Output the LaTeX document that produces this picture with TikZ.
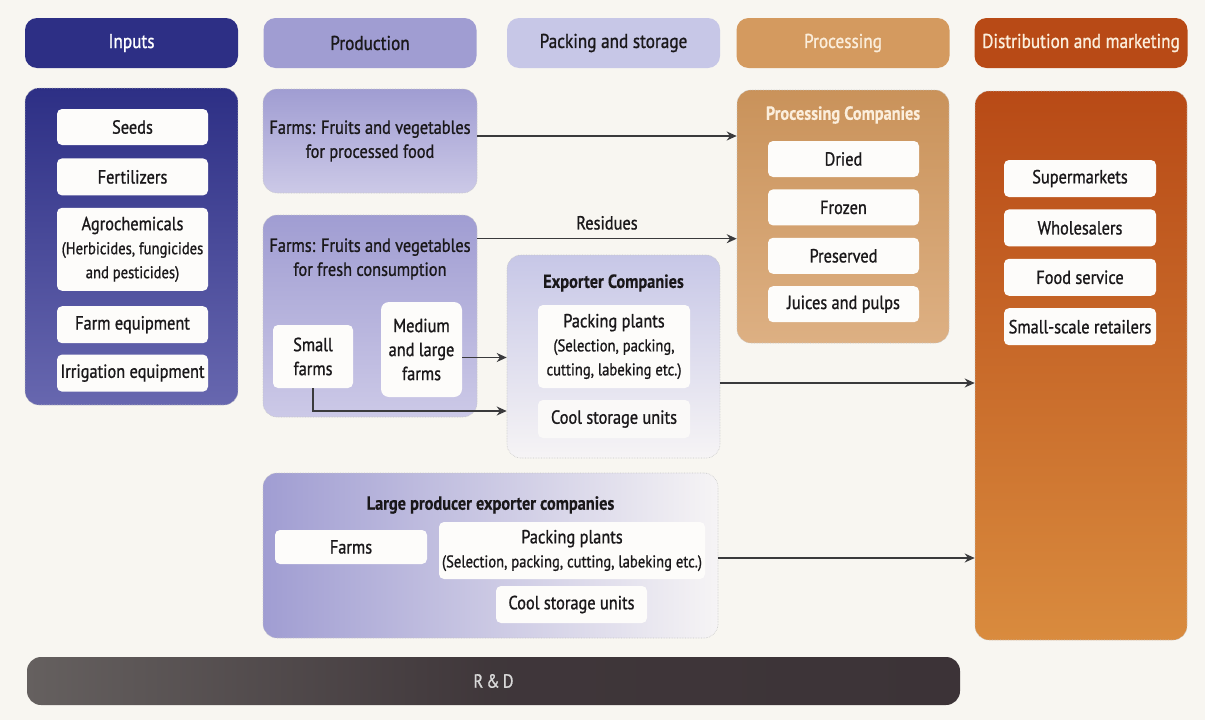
\documentclass[tikz,border=0pt]{standalone}
\usepackage{fontspec}
\setmainfont{PT Sans}[FakeStretch=0.86, FakeBold=1.0, BoldFeatures={FakeBold=0.3}]
\usepackage{xcolor}
\usepackage{tikz}
\usetikzlibrary{arrows.meta, positioning}

\definecolor{paper}{HTML}{F8F6F1}
\definecolor{ink}{HTML}{1A181A}
\definecolor{itemwhite}{HTML}{FDFCFA}
\definecolor{arrowgray}{HTML}{3A3A3C}
\definecolor{inputblue}{HTML}{2D2F85}
\definecolor{inputlight}{HTML}{6767AF}
\definecolor{prodpurple}{HTML}{A09DD2}
\definecolor{prodlight}{HTML}{CCC9E7}
\definecolor{packlav}{HTML}{C7C7E7}
\definecolor{packpale}{HTML}{F6F4F5}
\definecolor{proctan}{HTML}{D49A5F}
\definecolor{proclight}{HTML}{DDB083}
\definecolor{proccream}{HTML}{FBEEDC}
\definecolor{distred}{HTML}{B84A16}
\definecolor{distorange}{HTML}{D98B3E}
\definecolor{rddark}{HTML}{3C3337}
\definecolor{rdgray}{HTML}{65605F}

\begin{document}
\begin{tikzpicture}[x=1pt, y=-1pt, node distance=12pt, every node/.style={font=\fontsize{19}{24}\selectfont, text=ink}]
    % Styles
    \tikzstyle{head} = [rectangle, rounded corners=12pt, minimum width=213pt, minimum height=50pt, inner sep=0pt, font=\fontsize{20}{24}\selectfont]
    \tikzstyle{panel} = [rectangle, rounded corners=14pt, draw=black!22, densely dotted, line width=0.6pt, inner sep=0pt]
    \tikzstyle{item} = [rectangle, rounded corners=5pt, fill=itemwhite, minimum width=151pt, minimum height=37pt, align=center, inner sep=2pt]
    \tikzstyle{title} = [font=\bfseries\fontsize{19}{24}\selectfont]
    \tikzstyle{flow} = [-{Stealth[length=10pt, width=9pt]}, line width=1.3pt, draw=arrowgray]

    \fill[paper] (0,0) rectangle (1205,720);
    \useasboundingbox (0,0) rectangle (1205,720);

    % Header row
    \node[head, fill=inputblue, text=white] (hinputs) at (131.5,43) {Inputs};
    \node[head, fill=prodpurple] (hprod) at (370,43) {Production};
    \node[head, fill=packlav] (hpack) at (613.5,43) {Packing and storage};
    \node[head, fill=proctan, text=proccream] (hproc) at (843,43) {Processing};
    \node[head, fill=distred, text=proccream] (hdist) at (1081,43) {Distribution and marketing};

    % Panels
    \node[panel, top color=inputblue, bottom color=inputlight, minimum width=213pt, minimum height=317pt] (inputs) at (131.5,246.5) {};
    \node[panel, top color=prodpurple, bottom color=prodlight, minimum width=214pt, minimum height=104pt] (farmsproc) at (370,141) {};
    \node[panel, top color=prodpurple, bottom color=prodlight, minimum width=214pt, minimum height=202pt] (farmsfresh) at (370,316) {};
    \node[panel, top color=packlav, bottom color=packpale, minimum width=213pt, minimum height=203pt] (exporter) at (613.5,356.5) {};
    \node[panel, top color=proctan!95!black, bottom color=proclight, minimum width=212pt, minimum height=253pt] (proc) at (843,216.5) {};
    \node[panel, top color=distred, bottom color=distorange, minimum width=212pt, minimum height=549pt] (dist) at (1081,365.5) {};
    \node[panel, left color=prodpurple, right color=packpale, minimum width=455pt, minimum height=165pt] (large) at (490.5,555.5) {};
    \node[rectangle, rounded corners=14pt, left color=rdgray, right color=rddark, middle color=rddark!92!rdgray, minimum width=933pt, minimum height=48pt, text=white!85!black] (rd) at (493.5,681) {R\,\&\,D};

    % Inputs
    \node[item, minimum height=36pt] (seeds) at (132.5,127) {Seeds};
    \node[item, below=13pt of seeds] (fert) {Fertilizers};
    \node[item, below=12pt of fert, minimum height=83pt] (agro) {Agrochemicals\\ \fontsize{17}{22}\selectfont(Herbicides, fungicides\\ \fontsize{17}{22}\selectfont and pesticides)};
    \node[item, below=15pt of agro] (farmeq) {Farm equipment};
    \node[item, below=11pt of farmeq] (irrig) {Irrigation equipment};

    % Production
    \node[align=center] (proctext) at (farmsproc) {Farms: Fruits and vegetables\\for processed food};
    \node[align=center] (freshtext) at (370,259) {Farms: Fruits and vegetables\\for fresh consumption};
    \node[item, minimum width=80pt, minimum height=63pt] (small) at (313,356.5) {Small\\farms};
    \node[item, minimum width=81pt, minimum height=95pt, rounded corners=8pt] (medium) at (421.5,349.5) {Medium\\and large\\farms};

    % Packing and storage
    \node[title] (exptitle) at (613.5,283) {Exporter Companies};
    \node[item, minimum width=152pt, minimum height=83pt] (packplant) at (614,346.5) {Packing plants\\ \fontsize{17}{21}\selectfont(Selection, packing,\\ \fontsize{17}{21}\selectfont cutting, labeking etc.)};
    \node[item, fill=itemwhite!60!packpale, minimum width=152pt, minimum height=38pt] (coolstore) at (614,419) {Cool storage units};

    % Processing
    \node[title, text=proccream] (proctitle) at (843,115) {Processing Companies};
    \node[item, minimum height=36pt] (dried) at (843.5,159) {Dried};
    \node[item, minimum height=36pt, below=of dried] (frozen) {Frozen};
    \node[item, minimum height=36pt, below=of frozen] (preserved) {Preserved};
    \node[item, minimum height=36pt, below=of preserved] (juices) {Juices and pulps};

    % Distribution and marketing
    \node[item, minimum width=152pt] (supermarkets) at (1080,178.5) {Supermarkets};
    \node[item, minimum width=152pt, below=of supermarkets] (wholesalers) {Wholesalers};
    \node[item, minimum width=152pt, below=of wholesalers] (foodservice) {Food service};
    \node[item, minimum width=152pt, below=of foodservice] (retailers) {Small-scale retailers};

    % Large producers
    \node[title] (largetitle) at (490.5,505) {Large producer exporter companies};
    \node[item, minimum width=152pt, minimum height=34pt] (lfarms) at (351,547) {Farms};
    \node[item, minimum width=266pt, minimum height=57pt] (lpack) at (572,550.5) {Packing plants\\ \fontsize{17}{21}\selectfont(Selection, packing, cutting, labeking etc.)};
    \node[item, minimum width=151pt] (lcool) at (571.5,604.5) {Cool storage units};

    % Connections
    \draw[flow] ([yshift=5pt]farmsproc.east) -- ([yshift=5pt]farmsproc.east -| proc.west);
    \draw[flow] ([yshift=-24pt]farmsfresh.north east) -- ([yshift=-24pt]farmsfresh.north east -| proc.west)
        node[midway, above=5pt] (residues) {Residues};
    \draw[flow] ([yshift=-8pt]medium.east) -- ([yshift=-8pt]medium.east -| exporter.west);
    \draw[flow] (small.south) |- ([yshift=8pt]coolstore.west -| exporter.west);
    \draw[flow] ([yshift=-26.5pt]exporter.east) -- ([yshift=-26.5pt]exporter.east -| dist.west);
    \draw[flow] ([yshift=-2.5pt]large.east) -- ([yshift=-2.5pt]large.east -| dist.west);
\end{tikzpicture}
\end{document}
